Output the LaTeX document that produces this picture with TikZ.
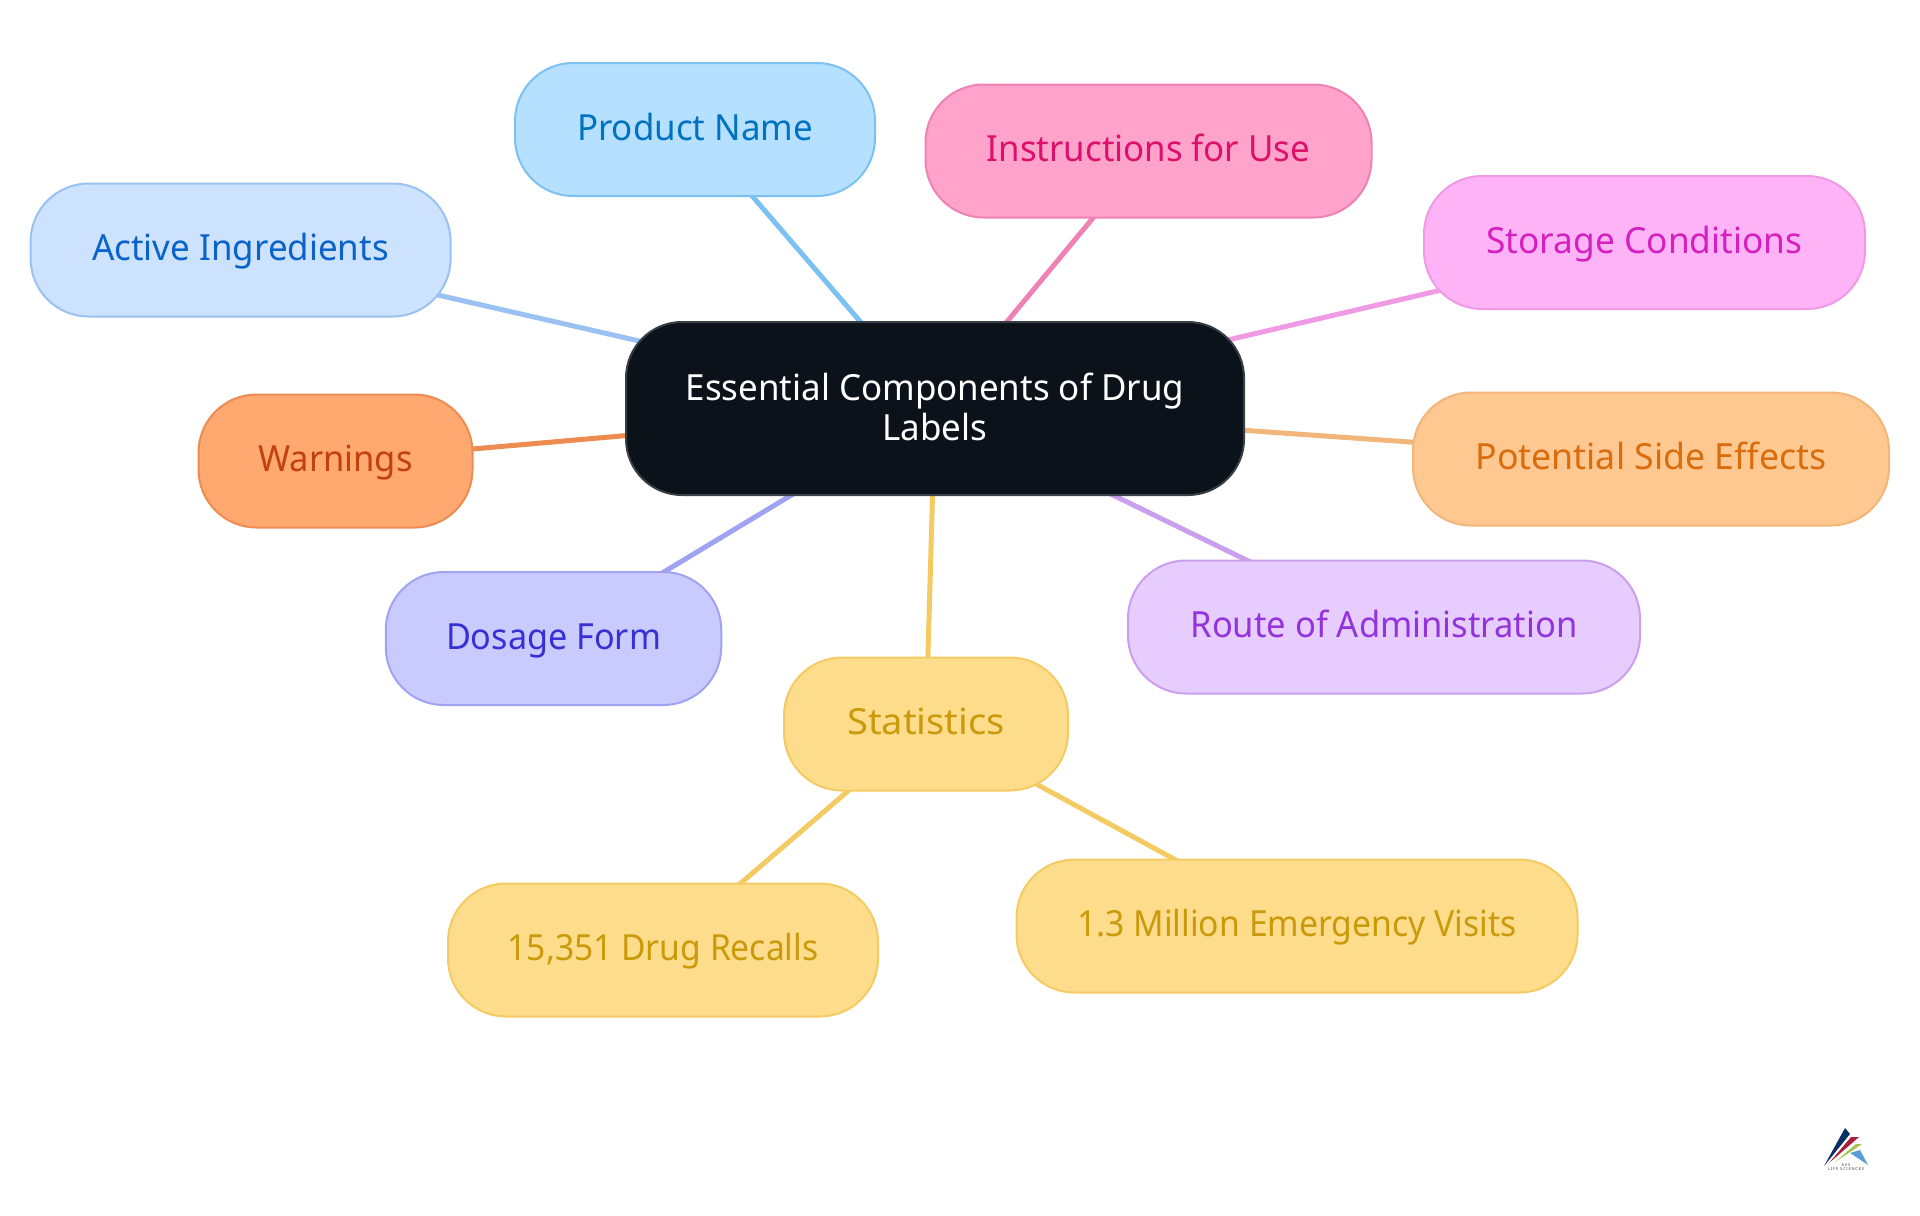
\documentclass[tikz,border=0pt]{standalone}
\usepackage{fontspec}
\setmainfont{Noto Sans}
\usetikzlibrary{backgrounds}
\pgfdeclarelayer{edges}
\pgfsetlayers{edges,main}
\newcommand{\fitx}[2]{{\addfontfeature{FakeStretch=#1}#2}}
\definecolor{rootfill}{HTML}{0B1219}
\definecolor{rootline}{HTML}{3A3F45}
\definecolor{pnF}{HTML}{B6E0FF}\definecolor{pnL}{HTML}{7DC1F2}\definecolor{pnT}{HTML}{0072BF}
\definecolor{aiF}{HTML}{CCE2FF}\definecolor{aiL}{HTML}{99C2F2}\definecolor{aiT}{HTML}{0A63C9}
\definecolor{iuF}{HTML}{FFA3CB}\definecolor{iuL}{HTML}{EE82B4}\definecolor{iuT}{HTML}{DD0F6C}
\definecolor{scF}{HTML}{FFB3F7}\definecolor{scL}{HTML}{F09AE6}\definecolor{scT}{HTML}{D420BE}
\definecolor{waF}{HTML}{FFA870}\definecolor{waL}{HTML}{EC8C50}\definecolor{waT}{HTML}{C2410C}
\definecolor{seF}{HTML}{FFC891}\definecolor{seL}{HTML}{F2B57A}\definecolor{seT}{HTML}{D96D0D}
\definecolor{dfF}{HTML}{C9CBFF}\definecolor{dfL}{HTML}{A0A3F2}\definecolor{dfT}{HTML}{3730D4}
\definecolor{raF}{HTML}{E6CCFF}\definecolor{raL}{HTML}{CB9FEE}\definecolor{raT}{HTML}{9333DB}
\definecolor{stF}{HTML}{FDDC8C}\definecolor{stL}{HTML}{F4CB63}\definecolor{stT}{HTML}{CA9A0A}
\definecolor{lgA}{HTML}{0A2F66}\definecolor{lgB}{HTML}{A8203C}\definecolor{lgC}{HTML}{A6C24A}\definecolor{lgD}{HTML}{5B9BD8}
\tikzset{
  x=0.5pt,y=-0.5pt,
  mm/.style n args={3}{draw=#1L,fill=#1F,text=#1T,line width=1pt,rounded corners=29pt,
    minimum width=#2*0.5pt,minimum height=#3*0.5pt,inner sep=0pt,
    font=\fontsize{18}{19.5}\selectfont,text height=12.1pt,text depth=1.4pt,anchor=center},
  rootbox/.style={draw=rootline,fill=rootfill,text=white,line width=1pt,rounded corners=28pt,
    minimum width=309pt,minimum height=86.5pt,inner sep=0pt,
    font=\fontsize{18}{20}\selectfont,align=center,anchor=center},
  link/.style={line width=2.5pt,draw=#1L},
  logotext/.style={inner sep=0pt,font=\fontsize{2}{2}\selectfont\addfontfeature{LetterSpace=20},text=black!75},
}
\begin{document}
\begin{tikzpicture}
\useasboundingbox (0,0) rectangle (1920,1215);
\node[rootbox] (root) at (935,408.5) {\fitx{0.97}{Essential Components of Drug}\\\fitx{0.97}{Labels}\rule[-2pt]{0pt}{0pt}};
\node[mm={pn}{360}{133}] (pn) at (695,129.5) {\fitx{0.97}{Product Name}};
\node[mm={iu}{446}{133}] (iu) at (1148.5,151) {\fitx{0.967}{Instructions for Use}};
\node[mm={ai}{420}{133}] (ai) at (240.6,250) {\fitx{0.97}{Active Ingredients}};
\node[mm={sc}{441}{133}] (sc) at (1644.5,242.5) {\fitx{0.98}{Storage Conditions}};
\node[mm={wa}{274}{133}] (wa) at (335.5,461) {\fitx{0.96}{Warnings}};
\node[mm={se}{476}{133}] (se) at (1651,459) {\fitx{0.993}{Potential Side Effects}};
\node[mm={df}{335.5}{133}] (df) at (553.5,638.5) {\fitx{0.95}{Dosage Form}};
\node[mm={ra}{512}{133}] (ra) at (1384,627) {\fitx{0.96}{Route of Administration}};
\node[mm={st}{284}{133}] (st) at (926,724) {\fitx{1.057}{Statistics}};
\node[mm={st}{430}{133}] (dr) at (663,950) {\fitx{0.934}{15,351 Drug Recalls}};
\node[mm={st}{561}{133}] (ev) at (1297,926) {\fitx{0.937}{1.3 Million Emergency Visits}};
\begin{pgfonlayer}{edges}
\foreach \n in {pn,iu,ai,sc,wa,se,df,ra,st}{\draw[link=\n] (root.center) -- (\n.center);}
\draw[link=st] (st.center) -- (dr.center);
\draw[link=st] (st.center) -- (ev.center);
\end{pgfonlayer}
% logo
\fill[lgA] (1824,1166) -- (1845,1128) -- (1850,1134) -- cycle;
\fill[lgB] (1829,1163) -- (1851,1137) -- (1859,1137) -- cycle;
\fill[lgC] (1835,1162) -- (1856,1144) -- (1862,1144) -- cycle;
\fill[lgD] (1850,1153) -- (1860,1150) -- (1868,1165) -- cycle;
\node[logotext] (lg1) at (1846,1165) {AVS};
\node[logotext] (lg2) at (1846,1169.5) {LIFE SCIENCES};
\end{tikzpicture}
\end{document}
